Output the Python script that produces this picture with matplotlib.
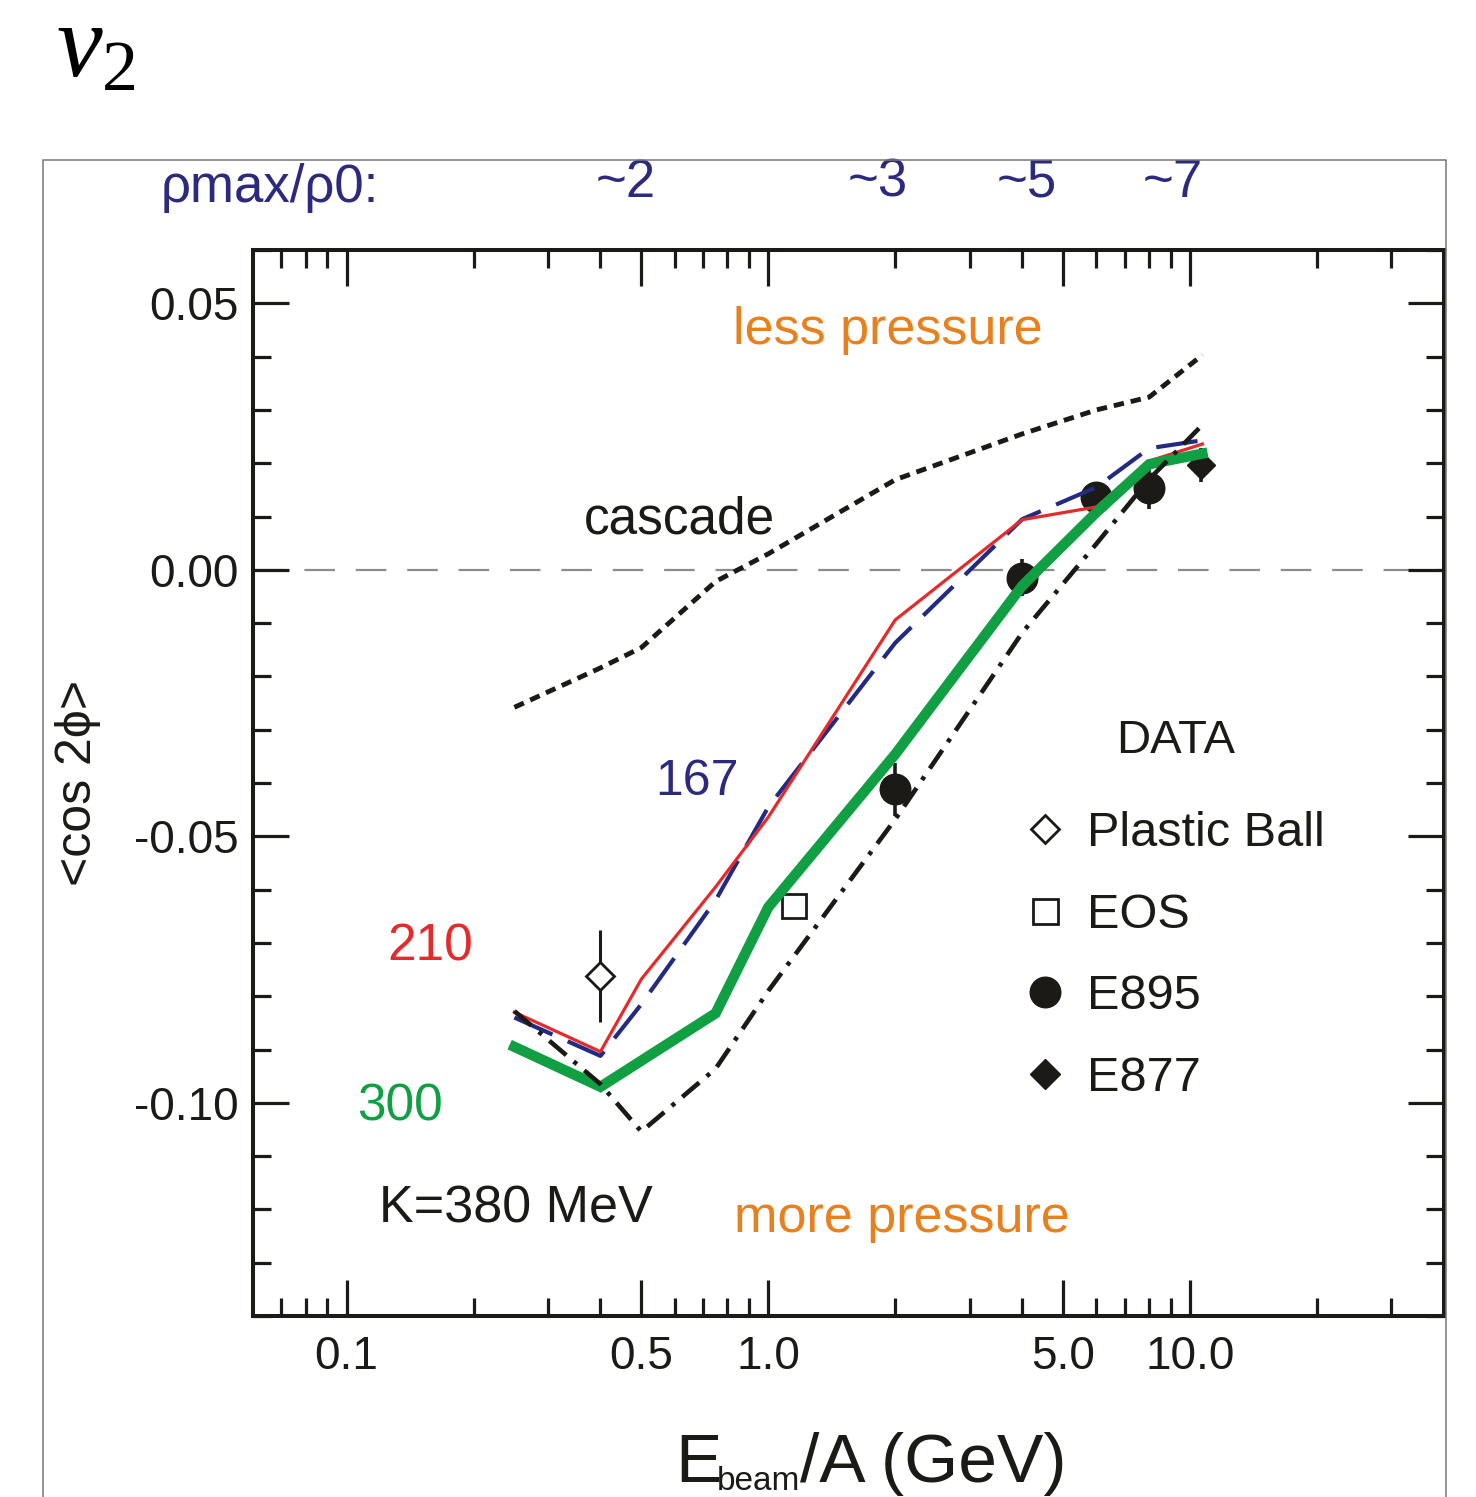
import matplotlib
matplotlib.use("Agg")
import matplotlib.pyplot as plt
import matplotlib.transforms as mtransforms
from matplotlib.lines import Line2D
from matplotlib.patches import Rectangle
from matplotlib.ticker import FixedLocator, FixedFormatter, MultipleLocator, NullFormatter

plt.rcParams["font.family"] = ["Liberation Sans", "DejaVu Sans"]
plt.rcParams["lines.scale_dashes"] = False
plt.rcParams["mathtext.fontset"] = "custom"
plt.rcParams["mathtext.it"] = "Liberation Serif:italic"
plt.rcParams["mathtext.rm"] = "Liberation Serif"

# ── data ──────────────────────────────────────────────────────────────────────

# beam energies (GeV/A) of the transport calculations
energy = [0.25, 0.4, 0.5, 0.75, 1.0, 2.0, 4.0, 6.0, 8.0, 10.7]
v2_cascade = [-0.0258, -0.0184, -0.0146, -0.0022, 0.0030, 0.0169, 0.0255, 0.0300, 0.0324, 0.0403]
v2_k167 = [-0.0840, -0.0912, -0.0815, -0.0620, -0.0445, -0.0137, 0.0095, 0.0155, 0.0228, 0.0243]
v2_k210 = [-0.0830, -0.0904, -0.0768, -0.0595, -0.0464, -0.0094, 0.0094, 0.0118, 0.0204, 0.0236]
v2_k300 = [-0.0895, -0.0970, -0.0921, -0.0832, -0.0633, -0.0346, -0.0030, 0.0108, 0.0198, 0.0218]
v2_k380 = [-0.0828, -0.0965, -0.1054, -0.0936, -0.0790, -0.0468, -0.0118, 0.0049, 0.0170, 0.0272]

# measurements
pb_e, pb_v2, pb_err = [0.40], [-0.0762], [0.0087]
eos_e, eos_v2 = [1.15], [-0.0631]
e895_e = [2.0, 4.0, 6.0, 8.0]
e895_v2 = [-0.0412, -0.0015, 0.0137, 0.0154]
e895_err = [0.0050, 0.0035, 0.0015, 0.0040]
e877_e, e877_v2, e877_err = [10.6], [0.0197], [0.0032]

# axis ticks
x_major = [0.1, 0.5, 1.0, 5.0, 10.0]
x_major_labels = ["0.1", "0.5", "1.0", "5.0", "10.0"]
x_minor = [0.07, 0.08, 0.09, 0.2, 0.3, 0.4, 0.6, 0.7, 0.8, 0.9,
           2, 3, 4, 6, 7, 8, 9, 20, 30]
y_major = [-0.10, -0.05, 0.00, 0.05]
y_major_labels = ["-0.10", "-0.05", "0.00", "0.05"]

# max density reached, marked along the top axis
rho_energy = [0.46, 1.82, 4.1, 9.1]
rho_labels = ["~2", "~3", "~5", "~7"]

NAVY = "#2b2a7f"
ORANGE = "#e8801e"
RED = "#e42a2b"
GREEN = "#10a043"
INK = "#1c1a17"

# ── figure ────────────────────────────────────────────────────────────────────

fig = plt.figure(figsize=(14.76, 14.97), dpi=100)
ax = fig.add_axes([0.1714, 0.1209, 0.8069, 0.7121])

# thin outer frame around the panel
fig.patches.append(Rectangle((0.0291, -0.05), 0.9506, 0.9431, transform=fig.transFigure,
                             fill=False, edgecolor="#777777", linewidth=1.1))

ax.axhline(0.0, color="#8c8c8c", linewidth=1.6, dashes=(22, 15), zorder=1)

# data points (drawn beneath the curves)
ax.errorbar(pb_e, pb_v2, yerr=pb_err, fmt="none", ecolor=INK, elinewidth=2.2, zorder=2)
ax.errorbar(e895_e, e895_v2, yerr=e895_err, fmt="none", ecolor=INK, elinewidth=2.6, zorder=2)
ax.errorbar(e877_e, e877_v2, yerr=e877_err, fmt="none", ecolor=INK, elinewidth=2.6, zorder=2)
ax.plot(pb_e, pb_v2, "D", ms=14, mfc="white", mec=INK, mew=2.0, ls="none", zorder=3)
ax.plot(eos_e, eos_v2, "s", ms=17, mfc="white", mec=INK, mew=2.0, ls="none", zorder=3)
ax.plot(e895_e, e895_v2, "o", ms=22, color=INK, ls="none", zorder=3)
ax.plot(e877_e, e877_v2, "D", ms=14, color=INK, ls="none", zorder=3)

# model curves
ax.plot(energy, v2_cascade, color=INK, linewidth=3.5, dashes=(7.5, 5.0), zorder=4)
ax.plot(energy, v2_k167, color="#232a82", linewidth=3.0, dashes=(30, 12), zorder=4)
ax.plot(energy, v2_k210, color=RED, linewidth=2.3, zorder=5)
ax.plot(energy, v2_k300, color=GREEN, linewidth=7.5, solid_joinstyle="miter", zorder=6)
ax.plot(energy, v2_k380, color=INK, linewidth=3.3, dashes=(16, 7, 3, 7), zorder=7)

ax.set_xscale("log")
ax.set_xlim(0.06, 40)
ax.set_ylim(-0.14, 0.06)

ax.xaxis.set_major_locator(FixedLocator(x_major))
ax.xaxis.set_major_formatter(FixedFormatter(x_major_labels))
ax.xaxis.set_minor_locator(FixedLocator(x_minor))
ax.xaxis.set_minor_formatter(NullFormatter())
ax.yaxis.set_major_locator(FixedLocator(y_major))
ax.yaxis.set_major_formatter(FixedFormatter(y_major_labels))
ax.yaxis.set_minor_locator(MultipleLocator(0.01))

ax.tick_params(which="both", direction="in", top=True, right=True,
               color=INK, width=2.3, labelsize=33, labelcolor=INK)
ax.tick_params(which="major", length=26)
ax.tick_params(which="minor", length=13)
ax.tick_params(axis="x", which="major", pad=14)
ax.tick_params(axis="y", which="major", pad=10)
for s in ax.spines.values():
    s.set_linewidth(2.9)
    s.set_color(INK)

ax.set_ylabel("<cos 2ϕ>", fontsize=36, color=INK)
ax.yaxis.set_label_coords(-0.128, 0.5)

# annotations
ax.text(1.92, 0.0449, "less pressure", color=ORANGE, fontsize=37.5, ha="center", va="center")
ax.text(2.07, -0.1217, "more pressure", color=ORANGE, fontsize=37.5, ha="center", va="center")
ax.text(0.615, 0.0094, "cascade", color=INK, fontsize=37, ha="center", va="center")
ax.text(0.678, -0.0399, "167", color=NAVY, fontsize=36, ha="center", va="center")
ax.text(0.158, -0.0708, "210", color=RED, fontsize=37, ha="center", va="center")
ax.text(0.134, -0.1007, "300", color=GREEN, fontsize=37, ha="center", va="center")
ax.text(0.252, -0.1199, "K=380 MeV", color=INK, fontsize=37.5, ha="center", va="center")

# legend for the measurements
handles = [
    Line2D([], [], ls="none", marker="D", ms=14, mfc="white", mec=INK, mew=2.0),
    Line2D([], [], ls="none", marker="s", ms=18, mfc="white", mec=INK, mew=2.0),
    Line2D([], [], ls="none", marker="o", ms=22, color=INK),
    Line2D([], [], ls="none", marker="D", ms=15, color=INK),
]
leg = ax.legend(handles, ["Plastic Ball", "EOS", "E895", "E877"], title="DATA",
                loc="upper left", bbox_to_anchor=(0.695, 0.520), bbox_transform=fig.transFigure,
                frameon=False, fontsize=35, title_fontsize=34, handlelength=0.8,
                handletextpad=0.46, labelspacing=0.75, borderpad=0, borderaxespad=0)
leg._legend_box.sep = 35  # extra room below the "DATA" title
for t in leg.get_texts():
    t.set_color(INK)
leg.get_title().set_color(INK)

# density labels above the plot
top = mtransforms.blended_transform_factory(ax.transData, ax.transAxes)
ax.text(0.0656, 1.058, "ρmax/ρ0:", transform=top, color=NAVY, fontsize=38, ha="center", va="center")
for e, lab in zip(rho_energy, rho_labels):
    ax.text(e, 1.063, lab, transform=top, color=NAVY, fontsize=38, ha="center", va="center")

# x label with small subscript
fig.text(0.4573, 0.0100, "E", fontsize=50, color=INK, ha="left", va="baseline")
fig.text(0.4858, 0.0050, "beam", fontsize=24, color=INK, ha="left", va="baseline")
fig.text(0.5420, 0.0100, "/A (GeV)", fontsize=50, color=INK, ha="left", va="baseline")

# panel tag
fig.text(0.038, 0.999, r"$v_2$", fontsize=74, color="black", ha="left", va="top")

fig.savefig("out.png", dpi=100)
